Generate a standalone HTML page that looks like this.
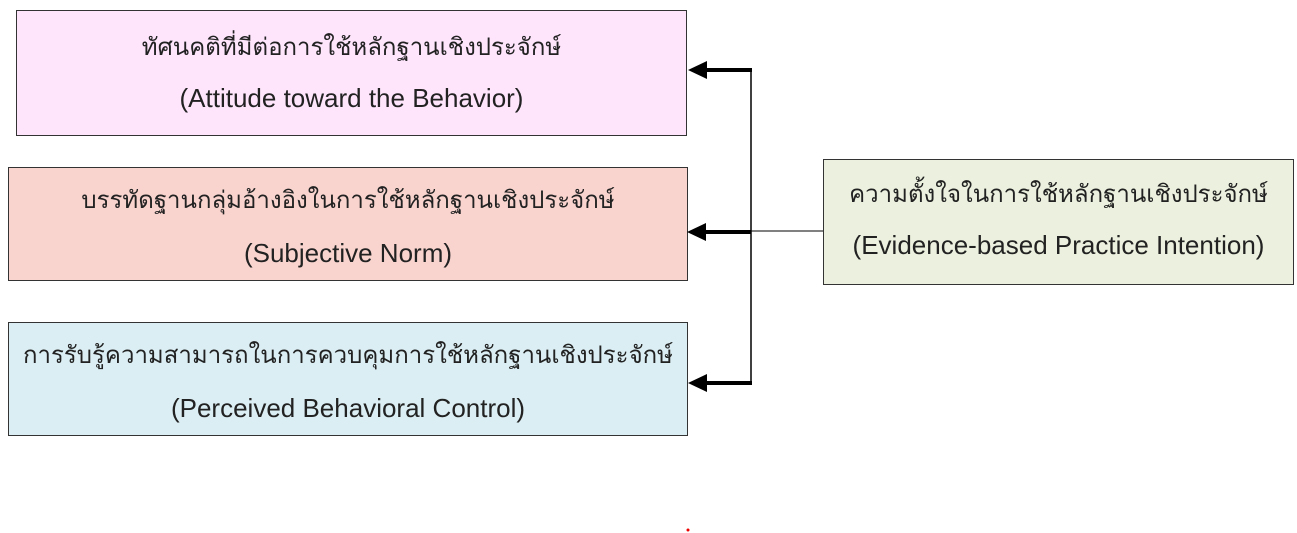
<!DOCTYPE html>
<html><head><meta charset="utf-8"><style>
body{margin:0;width:1297px;height:533px;background:#fff;position:relative;overflow:hidden;font-family:"Liberation Sans","DejaVu Sans",sans-serif;}
.b{position:absolute;box-sizing:border-box;border:1px solid #333;text-align:center;color:#222;}
.b div{position:absolute;left:0;right:0;line-height:30px;white-space:nowrap;}
.t{font-size:24px;}
.e{font-size:26px;}
</style></head><body>
<div class="b" style="left:16px;top:10px;width:671px;height:126px;background:#fee5fc;">
<div class="t" style="top:22px">ทัศนคติที่มีต่อการใช้หลักฐานเชิงประจักษ์</div>
<div class="e" style="top:72px">(Attitude toward the Behavior)</div></div>
<div class="b" style="left:8px;top:167px;width:680px;height:114px;background:#f9d4cf;">
<div class="t" style="top:18px">บรรทัดฐานกลุ่มอ้างอิงในการใช้หลักฐานเชิงประจักษ์</div>
<div class="e" style="top:70px">(Subjective Norm)</div></div>
<div class="b" style="left:8px;top:322px;width:680px;height:114px;background:#dbeef3;">
<div class="t" style="top:18px">การรับรู้ความสามารถในการควบคุมการใช้หลักฐานเชิงประจักษ์</div>
<div class="e" style="top:70px">(Perceived Behavioral Control)</div></div>
<div class="b" style="left:823px;top:159px;width:471px;height:126px;background:#ebf1de;">
<div class="t" style="top:20px">ความตั้งใจในการใช้หลักฐานเชิงประจักษ์</div>
<div class="e" style="top:70px">(Evidence-based Practice Intention)</div></div>
<svg width="1297" height="533" style="position:absolute;left:0;top:0">
<line x1="751" y1="69" x2="751" y2="385" stroke="#000" stroke-width="1.5"/>
<line x1="751" y1="231" x2="823" y2="231" stroke="#000" stroke-width="1"/>
<g stroke="#000" stroke-width="4">
<line x1="752" y1="70" x2="704" y2="70"/>
<line x1="751" y1="232" x2="704" y2="232"/>
<line x1="752" y1="383" x2="704" y2="383"/>
</g>
<polygon points="688,70 707,61 707,79" fill="#000"/>
<polygon points="687,232 706,223 706,241" fill="#000"/>
<polygon points="688,383 707,374 707,392" fill="#000"/>
<circle cx="688" cy="530" r="1.5" fill="#e00"/>
</svg>
</body></html>
